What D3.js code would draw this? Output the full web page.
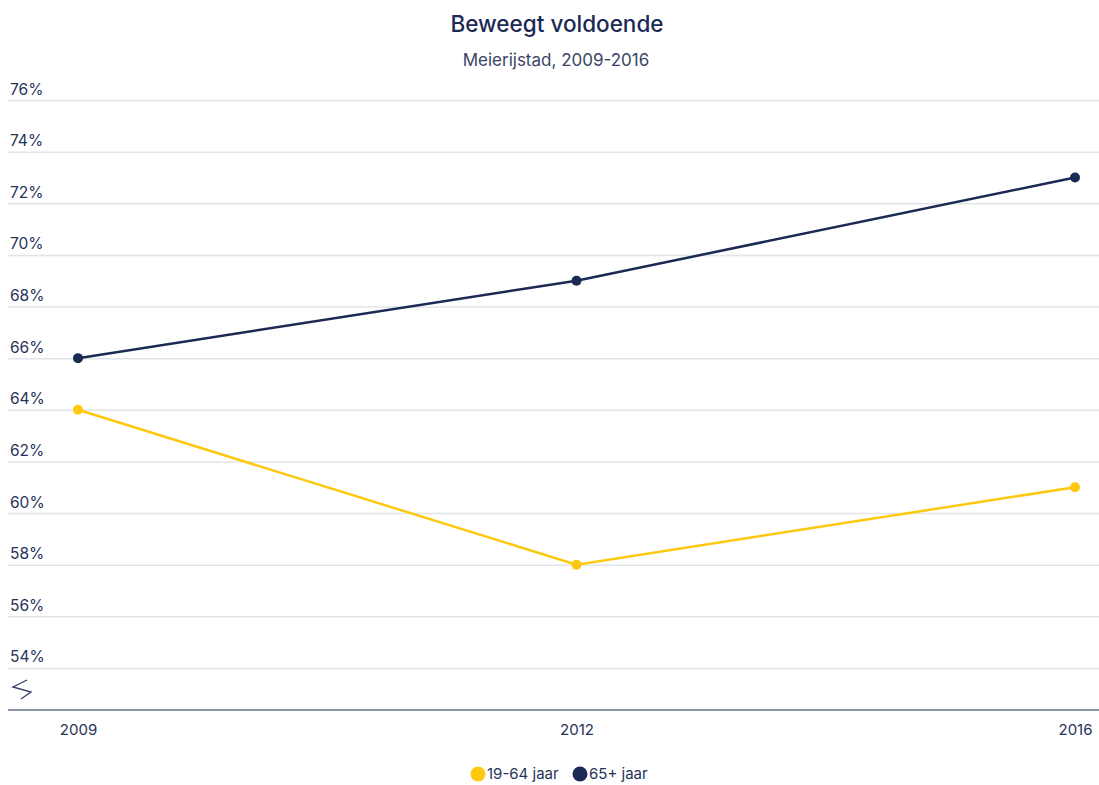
<!DOCTYPE html>
<html><head><meta charset="utf-8">
<script src="https://cdn.jsdelivr.net/npm/d3@7"></script>
<style>
body{margin:0;background:#fff;font-family:Inter,"Noto Sans",sans-serif;}
</style></head>
<body><svg id="c" width="1099" height="785"></svg>
<script>
const years = ["2009","2012","2016"];
const seriesNames = ["19-64 jaar","65+ jaar"];
const values1964 = [64,58,61];
const values65 = [66,69,73];
const yTicks = [54,56,58,60,62,64,66,68,70,72,74,76];
const colors = ["#fdc90f","#1b2a54"];

const svg = d3.select("#c");
const navy = "#1b2a54";
const textCol = "#27335a";
const x = d3.scalePoint().domain(years).range([78,1075]);
const y = d3.scaleLinear().domain([52.37,76]).range([710,100]);

svg.append("text").attr("x",557).attr("y",32).attr("text-anchor","middle")
  .attr("font-size",22.5).attr("font-weight",500).attr("fill",navy).text("Beweegt voldoende");
svg.append("text").attr("x",556).attr("y",66).attr("text-anchor","middle")
  .attr("font-size",17).attr("fill","#3a4566").text("Meierijstad, 2009-2016");

// grid
const yAxis = d3.axisLeft(y).tickValues(yTicks).tickSize(0).tickFormat(d=>d+"%");
const gy = svg.append("g").call(yAxis);
gy.select(".domain").remove();
gy.selectAll(".tick line").remove();
gy.selectAll(".tick").append("line").attr("x1",8).attr("x2",1099).attr("stroke","#e2e4e8").attr("stroke-width",1.5);
gy.selectAll(".tick text").attr("x",10).attr("dy",-6).attr("text-anchor","start")
  .attr("font-size",15.5).attr("font-family","Inter,'Noto Sans',sans-serif").attr("fill",textCol);

// axis break symbol
svg.append("path").attr("d","M27,680 L13,687 L31,692 L21,699").attr("fill","none").attr("stroke","#33406a").attr("stroke-width",1.3);

// x axis
const xAxis = d3.axisBottom(x).tickSize(0).tickPadding(14);
const gx = svg.append("g").attr("transform","translate(0,710)").call(xAxis);
gx.select(".domain").remove();
gx.append("line").attr("x1",8).attr("x2",1099).attr("stroke","#8c93a8").attr("stroke-width",2);
gx.selectAll(".tick text").attr("font-size",15).attr("font-family","Inter,'Noto Sans',sans-serif").attr("fill",textCol);

const data = [values1964, values65];
const line = d3.line().x((d,i)=>x(years[i])).y(d=>y(d));
data.forEach((vals,k)=>{
  svg.append("path").datum(vals).attr("d",line).attr("fill","none").attr("stroke",colors[k]).attr("stroke-width",2.5);
  svg.selectAll(null).data(vals).enter().append("circle")
    .attr("cx",(d,i)=>x(years[i])).attr("cy",d=>y(d)).attr("r",5).attr("fill",colors[k]);
});

// legend
const lg = svg.append("g");
const items = [{n:seriesNames[0],c:colors[0],x:478},{n:seriesNames[1],c:colors[1],x:580}];
items.forEach(it=>{
  lg.append("circle").attr("cx",it.x).attr("cy",774).attr("r",7.5).attr("fill",it.c);
  lg.append("text").attr("x",it.x+9).attr("y",779).attr("font-size",15).attr("fill",textCol).text(it.n);
});
</script></body></html>
